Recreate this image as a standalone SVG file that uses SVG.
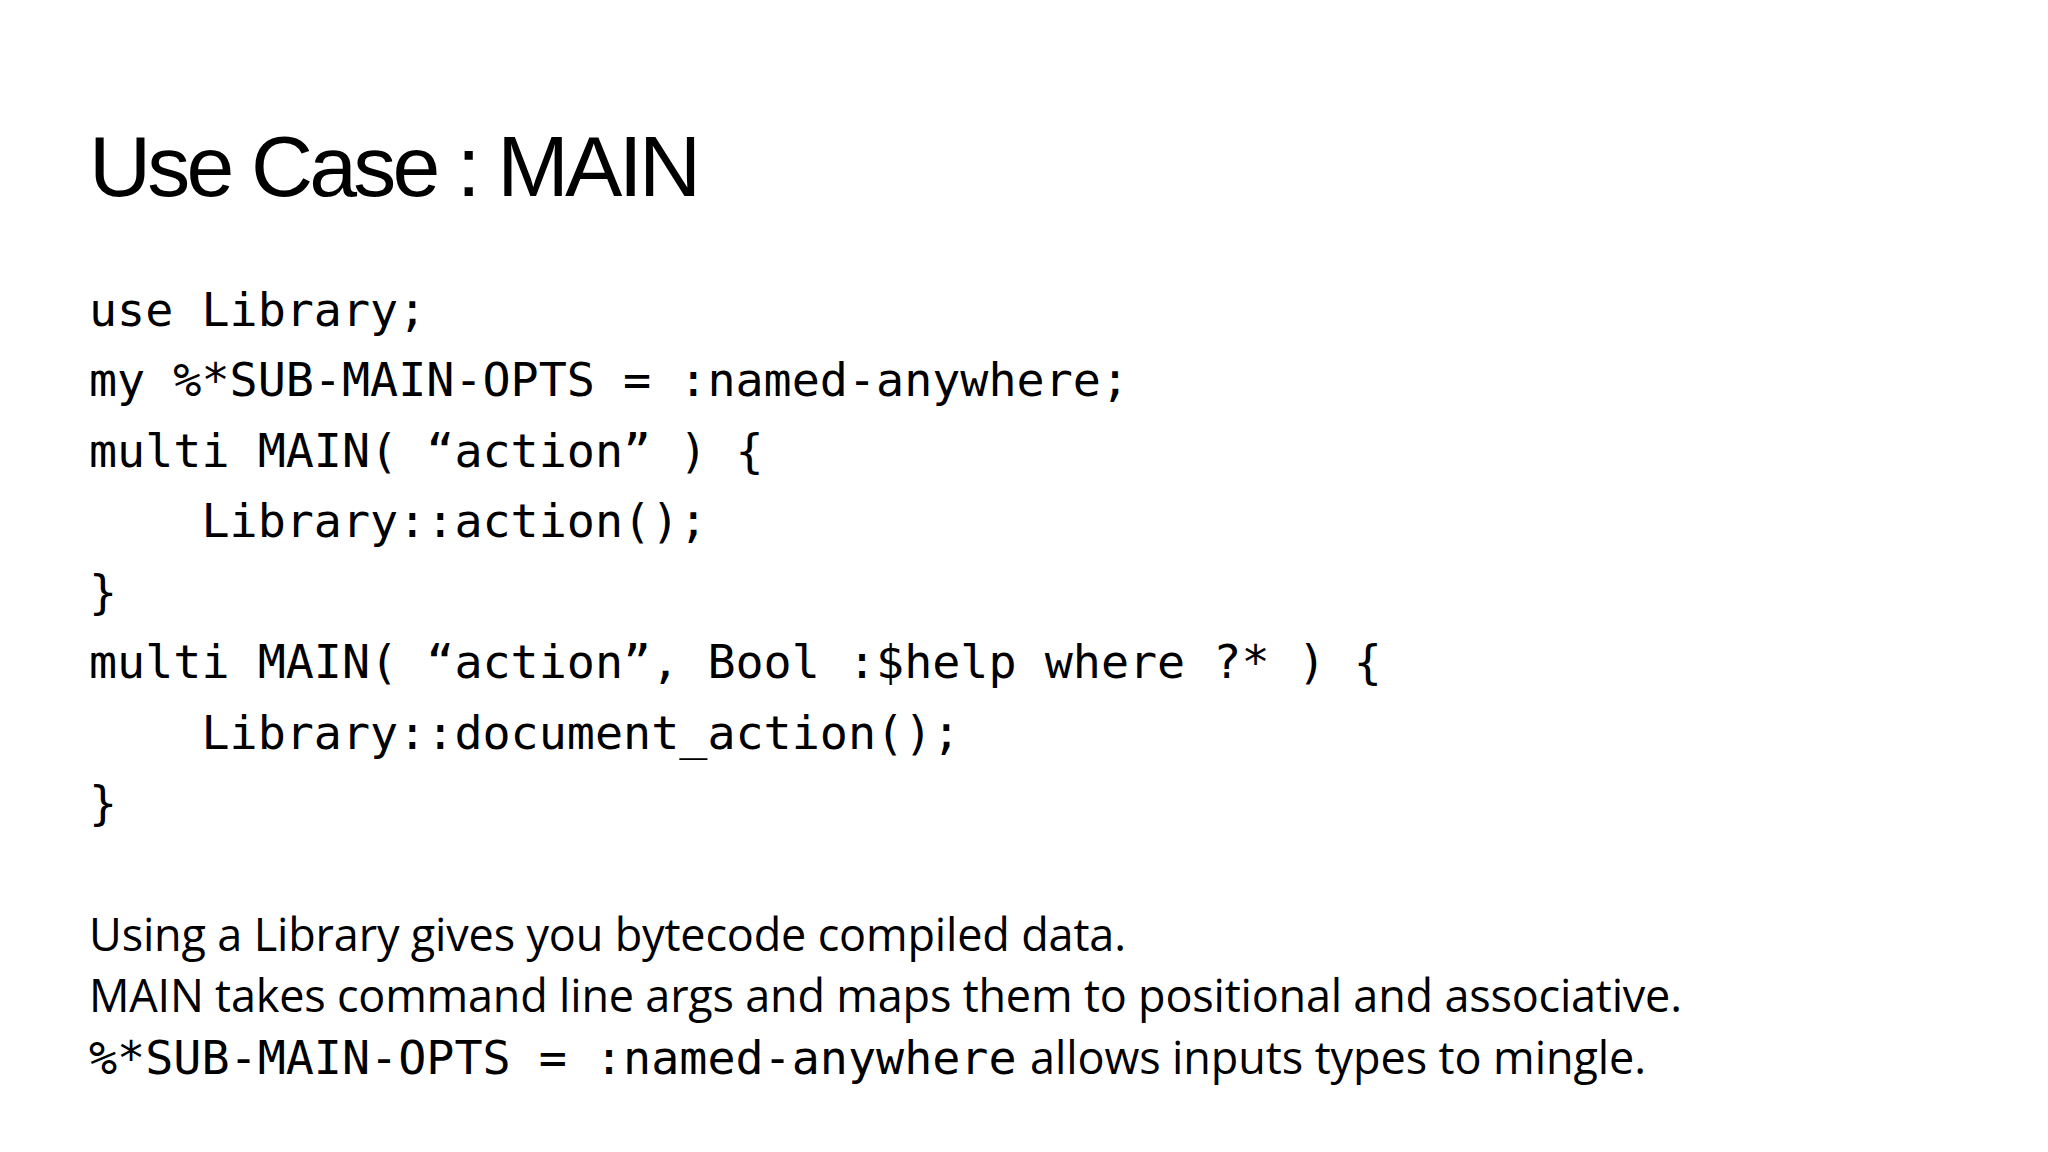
<svg xmlns="http://www.w3.org/2000/svg" width="2048" height="1152" viewBox="0 0 2048 1152">
<style>
.t{font-family:"Liberation Sans",Arial,sans-serif;font-size:86px;fill:#000}
.c{font-family:"DejaVu Sans Mono","Liberation Mono",monospace;font-size:46.7px;fill:#000;white-space:pre}
.p{font-family:"Open Sans","Liberation Sans",sans-serif;font-size:45px;fill:#000;white-space:pre}
</style>
<rect width="2048" height="1152" fill="#fff"/>
<g id="title"><text class="t" x="89" y="196" textLength="612">Use Case : MAIN</text></g>
<g id="code">
<text class="c" x="89" y="326">use Library;</text>
<text class="c" x="89" y="396">my %*SUB-MAIN-OPTS = :named-anywhere;</text>
<text class="c" x="89" y="467">multi MAIN( “action” ) {</text>
<text class="c" x="89" y="537">    Library::action();</text>
<text class="c" x="89" y="608">}</text>
<text class="c" x="89" y="678">multi MAIN( “action”, Bool :$help where ?* ) {</text>
<text class="c" x="89" y="749">    Library::document_action();</text>
<text class="c" x="89" y="819">}</text>
</g>
<g id="notes">
<text class="p" x="89" y="951" textLength="1037">Using a Library gives you bytecode compiled data.</text>
<text class="p" x="89" y="1012" textLength="1593">MAIN takes command line args and maps them to positional and associative.</text>
<text class="c" x="89" y="1074">%*SUB-MAIN-OPTS = :named-anywhere</text>
<text class="p" x="1030" y="1074" textLength="616">allows inputs types to mingle.</text>
</g>
</svg>
